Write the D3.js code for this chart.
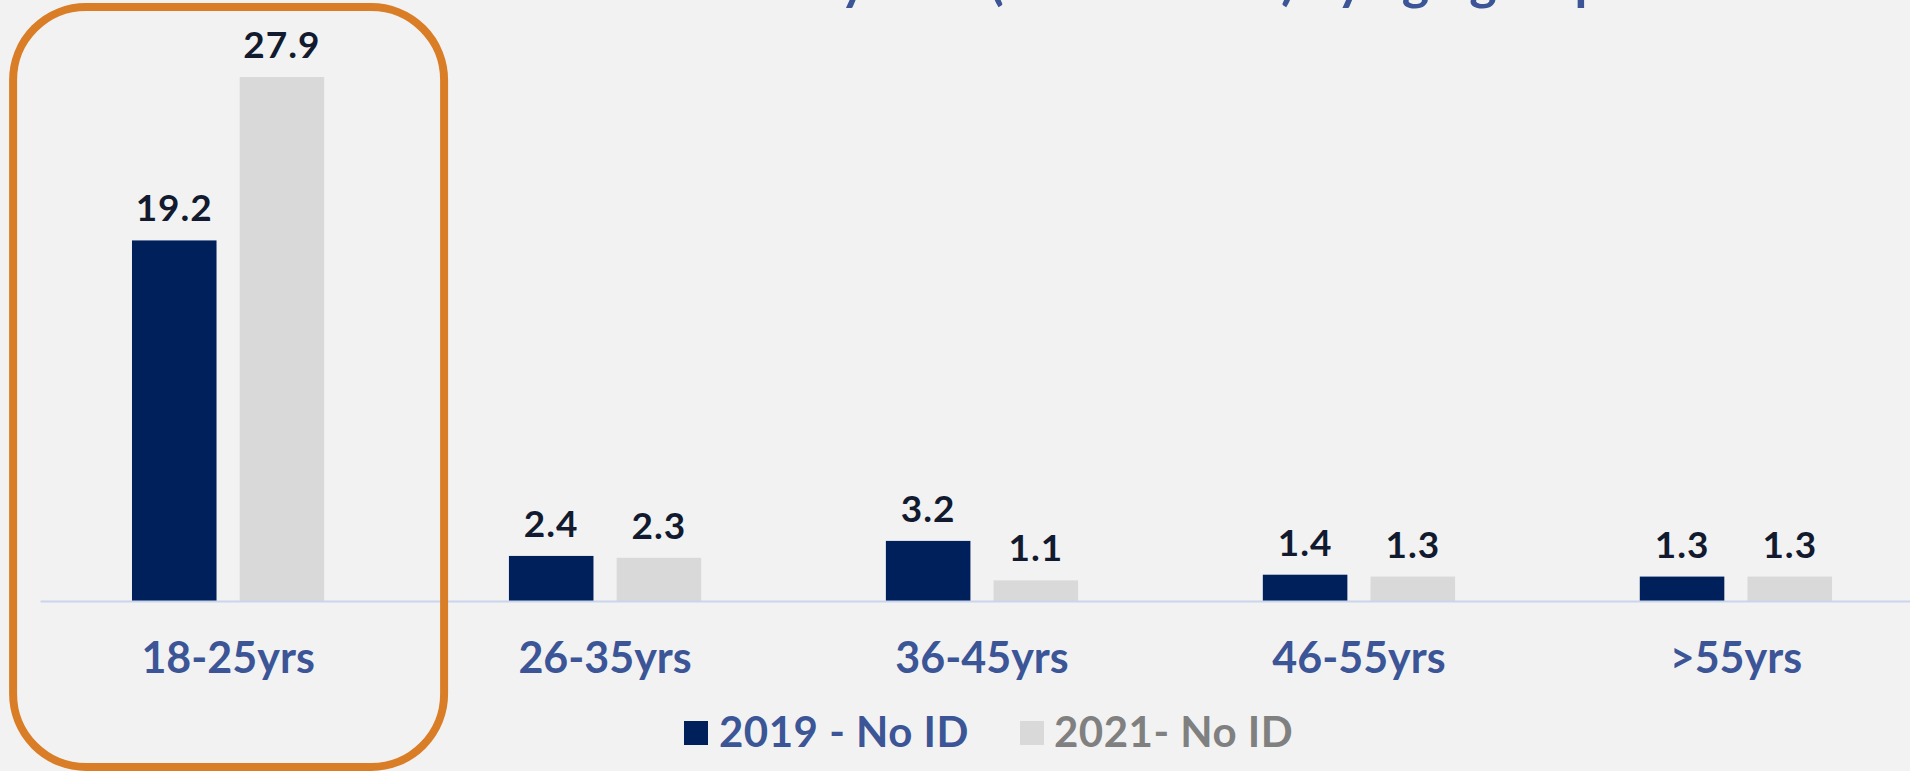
<!DOCTYPE html>
<html>
<head>
<meta charset="utf-8">
<script src="https://d3js.org/d3.v7.min.js"></script>
<style>
  html, body { margin: 0; padding: 0; background: #f2f2f2; overflow: hidden; }
  svg { display: block; font-family: Lato, "Open Sans", sans-serif; }
</style>
</head>
<body>
<script>
// chart data
var ageGroups = ["18-25yrs", "26-35yrs", "36-45yrs", "46-55yrs", ">55yrs"];
var seriesNames = ["2019 - No ID", "2021- No ID"];
var values2019 = [19.2, 2.4, 3.2, 1.4, 1.3];
var values2021 = [27.9, 2.3, 1.1, 1.3, 1.3];
var barColors = ["#00205b", "#d9d9d9"];
var legendColors = ["#3b5597", "#808080"];
var titleText = "Adults Without ID by Year (in % of total) by age group";

var width = 1910, height = 771;
var baseY = 601;

var svg = d3.select("body")
    .append("svg")
    .attr("width", width)
    .attr("height", height);

svg.append("rect")
    .attr("width", width)
    .attr("height", height)
    .attr("fill", "#f2f2f2");

var x0 = d3.scaleBand()
    .domain(ageGroups)
    .range([40, 1924])
    .paddingInner(0.49)
    .paddingOuter(0.244);

var x1 = d3.scaleBand()
    .domain(seriesNames)
    .range([0, x0.bandwidth()])
    .paddingInner(0.215);

var y = d3.scaleLinear()
    .domain([0, 30])
    .range([baseY, baseY - 30 * 18.78]);

// title (cut off at the top edge in the original, only descenders show)
svg.append("text")
    .attr("x", 1604)
    .attr("y", -1)
    .attr("text-anchor", "end")
    .attr("font-size", 52)
    .attr("font-weight", "bold")
    .attr("fill", "#3b5597")
    .text(titleText);

var rows = ageGroups.map(function(g, i) {
    return {group: g, vals: [values2019[i], values2021[i]]};
});

var groups = svg.selectAll(".grp")
    .data(rows)
    .enter().append("g")
    .attr("class", "grp")
    .attr("transform", function(d) { return "translate(" + x0(d.group) + ",0)"; });

var bars = groups.selectAll("rect")
    .data(function(d) {
        return d.vals.map(function(v, k) { return {key: seriesNames[k], k: k, v: v}; });
    })
    .enter();

bars.append("rect")
    .attr("x", function(d) { return x1(d.key); })
    .attr("y", function(d) { return y(d.v); })
    .attr("width", x1.bandwidth())
    .attr("height", function(d) { return baseY - y(d.v); })
    .attr("fill", function(d) { return barColors[d.k]; });

bars.append("text")
    .attr("x", function(d) { return x1(d.key) + x1.bandwidth() / 2; })
    .attr("y", function(d) { return y(d.v) - 19; })
    .attr("text-anchor", "middle")
    .attr("font-size", 37)
    .attr("font-weight", "bold")
    .attr("letter-spacing", 1)
    .attr("fill", "#111a2e")
    .text(function(d) { return d.v.toFixed(1); });

// x axis
var axis = svg.append("g")
    .attr("transform", "translate(0," + baseY + ")")
    .call(d3.axisBottom(x0).tickSize(0).tickSizeOuter(0));

axis.select(".domain")
    .attr("stroke", "#c9d5ec")
    .attr("stroke-width", 2);

axis.selectAll("text")
    .attr("y", 72)
    .attr("dy", 0)
    .attr("font-family", "Lato, sans-serif")
    .attr("font-size", 43)
    .attr("font-weight", "bold")
    .attr("fill", "#3b5597");

// highlight box around the first group
var cx = x0(ageGroups[0]) + x0.bandwidth() / 2;
svg.append("rect")
    .attr("x", cx - 215)
    .attr("y", 7)
    .attr("width", 431)
    .attr("height", 760)
    .attr("rx", 73)
    .attr("ry", 73)
    .attr("fill", "none")
    .attr("stroke", "#d97e27")
    .attr("stroke-width", 8);

// legend
var legendX = [684, 1020];
var legend = svg.selectAll(".leg")
    .data(seriesNames)
    .enter().append("g")
    .attr("class", "leg")
    .attr("transform", function(d, i) { return "translate(" + legendX[i] + ",721)"; });

legend.append("rect")
    .attr("width", 24)
    .attr("height", 24)
    .attr("fill", function(d, i) { return barColors[i]; });

legend.append("text")
    .attr("x", function(d, i) { return i == 0 ? 35 : 34; })
    .attr("y", 26)
    .attr("font-size", 42)
    .attr("font-weight", "bold")
    .attr("letter-spacing", 0.5)
    .attr("fill", function(d, i) { return legendColors[i]; })
    .text(function(d) { return d; });
</script>
</body>
</html>
